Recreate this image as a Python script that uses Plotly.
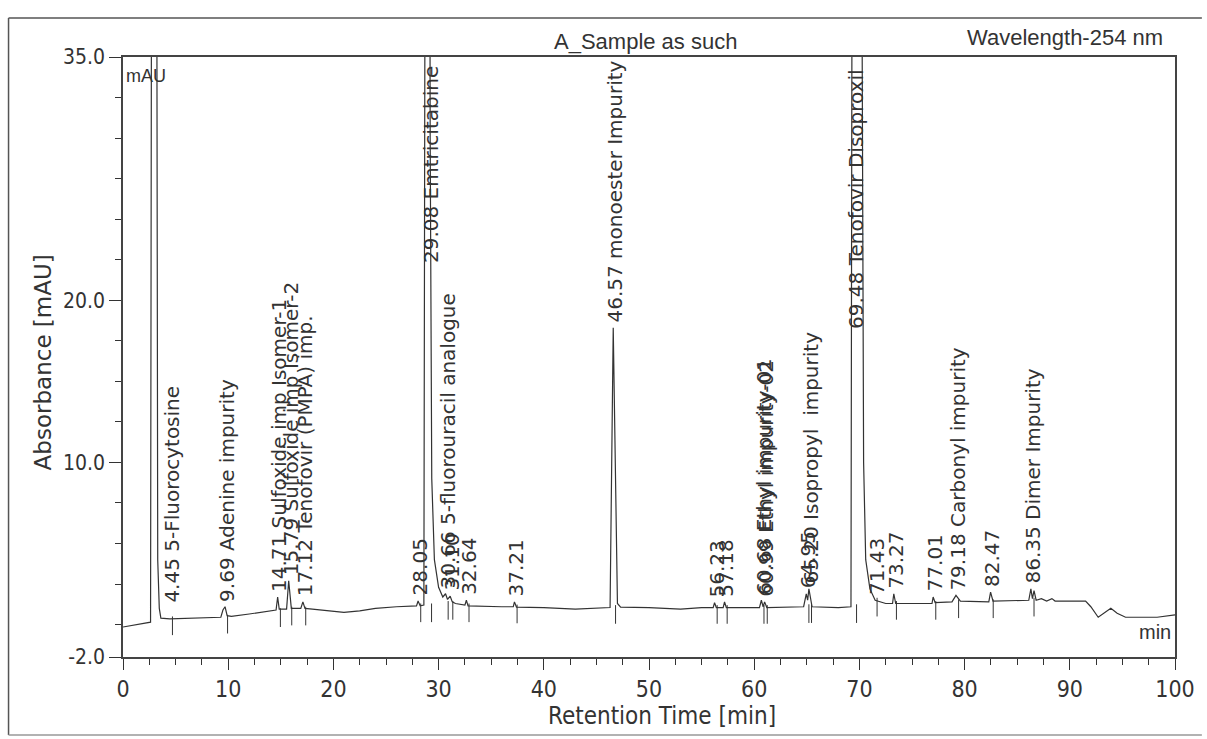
import numpy as np
import plotly.graph_objects as go

# ---------------- data ----------------
time_min = [0, 1, 2, 2.62, 2.95, 3.2, 3.3, 3.45, 3.6, 4.45, 6, 8, 9.3, 9.5, 9.7, 9.9, 10.3, 12, 14,
            14.55, 14.7, 14.85, 15.55, 15.75, 16.0, 16.9, 17.1, 17.3, 18, 19.5, 21, 22.5, 24, 26,
            27.9, 28.05, 28.25, 28.6, 28.95, 29.2, 29.35, 29.6, 30.0, 30.4, 30.66, 30.85, 31.1,
            31.3, 31.6, 32.5, 32.64, 32.8, 34, 36, 37.1, 37.21, 37.4, 40, 43, 46.3, 46.6, 47.0,
            47.3, 50, 53, 55, 56.1, 56.23, 56.4, 57.05, 57.18, 57.35, 60.5, 60.68, 60.85, 60.99,
            61.2, 64.7, 64.95, 65.08, 65.2, 65.5, 68, 69.2, 69.5, 70.25, 70.4, 70.6, 71.0, 71.5,
            72.5, 73.15, 73.27, 73.45, 76.9, 77.01, 77.2, 78.8, 79.18, 79.6, 82.3, 82.47, 82.7,
            86.1, 86.3, 86.45, 86.6, 86.8, 87.3, 87.8, 88.3, 88.6, 91.5, 92.0, 92.7, 93.2, 93.9,
            94.5, 95.3, 98.3, 100]
absorbance_mAU = [-0.15, -0.05, 0.05, 0.15, 150, 30, 4, 1.0, 0.4, 0.35, 0.38, 0.42, 0.45, 0.9, 1.1,
                  0.55, 0.5, 0.65, 0.85, 0.9, 1.7, 0.95, 0.95, 2.7, 1.0, 1.0, 1.4, 1.0, 0.95, 0.85,
                  0.75, 0.85, 1.0, 1.1, 1.15, 1.45, 1.15, 1.2, 130, 30, 9, 4, 2.3, 1.7, 1.9, 1.55,
                  1.75, 1.4, 1.3, 1.2, 1.5, 1.15, 1.12, 1.1, 1.1, 1.4, 1.08, 1.05, 0.95, 1.05, 18.3,
                  1.3, 1.08, 1.05, 0.95, 1.05, 1.05, 1.35, 1.05, 1.05, 1.4, 1.05, 1.05, 1.5, 1.1,
                  1.4, 1.05, 1.1, 1.9, 1.5, 2.2, 1.1, 1.05, 1.1, 120, 38, 10, 4, 2.2, 1.5, 1.3, 1.3,
                  1.9, 1.3, 1.3, 1.7, 1.35, 1.4, 1.8, 1.45, 1.4, 2.0, 1.45, 1.5, 2.2, 1.6, 2.1, 1.5,
                  1.6, 1.45, 1.6, 1.45, 1.45, 1.1, 0.45, 0.7, 1.0, 0.7, 0.45, 0.45, 0.6]

peak_rt = [4.45, 9.69, 14.71, 15.79, 17.12, 28.05, 29.08, 30.66, 31.10, 32.64, 37.21, 46.57,
           56.23, 57.18, 60.68, 60.99, 64.95, 65.20, 69.48, 71.43, 73.27, 77.01, 79.18, 82.47, 86.35]
peak_names = ["5-Fluorocytosine", "Adenine impurity", "Sulfoxide imp Isomer-1",
              "Sulfoxide imp Isomer-2", "Tenofovir (PMPA) imp.", "", "Emtricitabine",
              "5-fluorouracil analogue", "", "", "", "monoester Impurity", "", "",
              "Ethyl impurity-01", "Ethyl impurity-02", "", "Isopropyl  impurity",
              "Tenofovir Disoproxil", "", "", "", "Carbonyl impurity", "", "Dimer Impurity"]

x_tick_vals = [0, 10, 20, 30, 40, 50, 60, 70, 80, 90, 100]
y_tick_vals = [-2, 10, 20, 35]
y_tick_text = ["-2.0", "10.0", "20.0", "35.0"]

# ---------------- layout geometry ----------------
W, H = 1207, 739
ML, MR, MT, MB = 123, 27, 57, 82
PW, PH = W - ML - MR, H - MT - MB


def px(xp):
    return (xp - ML) / PW


def py(yp):
    return (H - MB - yp) / PH


INK = "#333333"
HFONT = "DejaVu Sans Condensed, Liberation Sans Narrow, Arial Narrow, Liberation Sans, Arial, sans-serif"
SFONT = "Liberation Sans, Arial, sans-serif"
VFONT = "DejaVu Sans, Liberation Sans, Arial, sans-serif"

t = np.array(time_min)
a = np.array(absorbance_mAU)

fig = go.Figure()
fig.add_trace(go.Scatter(x=time_min, y=absorbance_mAU, mode="lines",
                         line=dict(color=INK, width=1.2), hoverinfo="skip"))

# integration marks below the baseline
tx, ty = [], []
for rt in peak_rt:
    win = a[(t >= rt - 1.0) & (t <= rt + 1.0)]
    v = win.min()
    tx += [rt + 0.25, rt + 0.25, None]
    ty += [v + 0.15, v - 1.0, None]
fig.add_trace(go.Scatter(x=tx, y=ty, mode="lines", line=dict(color=INK, width=1),
                         hoverinfo="skip"))

# peak labels
label_cap = {29.08: 22.2, 69.48: 18.1}
annotations = []
for rt, name in zip(peak_rt, peak_names):
    win = a[(t >= rt - 0.2) & (t <= rt + 0.2)]
    base = max(win.max() + 0.2, 1.25)
    if rt in label_cap:
        base = label_cap[rt]
    txt = f"{rt:.2f} {name}".rstrip()
    annotations.append(dict(x=rt, y=base, xref="x", yref="y", text=txt, textangle=-90,
                            xanchor="center", yanchor="bottom", xshift=2, showarrow=False,
                            font=dict(family=VFONT, size=20, color=INK)))

annotations += [
    dict(x=px(648), y=py(41), xref="paper", yref="paper", text="A_Sample as such",
         showarrow=False, xanchor="center", yanchor="middle",
         font=dict(family=SFONT, size=22, color=INK)),
    dict(x=px(1170), y=py(38), xref="paper", yref="paper", text="Wavelength-254 nm",
         showarrow=False, xanchor="right", yanchor="middle",
         font=dict(family=SFONT, size=22, color=INK)),
    dict(x=px(43), y=py(362), xref="paper", yref="paper", text="Absorbance [mAU]",
         textangle=-90, showarrow=False, xanchor="center", yanchor="middle",
         font=dict(family=VFONT, size=23, color=INK)),
    dict(x=px(665), y=py(716), xref="paper", yref="paper", text="Retention Time [min]",
         showarrow=False, xanchor="center", yanchor="middle",
         font=dict(family=HFONT, size=24, color=INK)),
    dict(x=px(124), y=py(64), xref="paper", yref="paper", text="mAU",
         showarrow=False, xanchor="left", yanchor="top",
         font=dict(family=SFONT, size=18, color=INK)),
    dict(x=px(1178), y=py(632), xref="paper", yref="paper", text="min",
         showarrow=False, xanchor="right", yanchor="middle",
         font=dict(family=SFONT, size=20, color=INK)),
]

shapes = [
    dict(type="line", xref="paper", yref="paper", x0=px(8), x1=px(8), y0=py(18), y1=py(735),
         line=dict(color="#555555", width=1.5)),
    dict(type="line", xref="paper", yref="paper", x0=px(8), x1=px(1207), y0=py(18), y1=py(18),
         line=dict(color="#555555", width=1.5)),
    dict(type="line", xref="paper", yref="paper", x0=px(8), x1=px(1207), y0=py(735), y1=py(735),
         line=dict(color="#999999", width=1.5)),
]

fig.update_layout(
    width=W, height=H,
    margin=dict(l=ML, r=MR, t=MT, b=MB),
    paper_bgcolor="white", plot_bgcolor="white",
    showlegend=False,
    annotations=annotations,
    shapes=shapes,
    xaxis=dict(range=[0, 100], tickmode="array", tickvals=x_tick_vals,
               ticks="outside", ticklen=11, tickwidth=1.2, tickcolor=INK,
               minor=dict(dtick=2.5, tick0=0, ticks="outside", ticklen=6, tickcolor=INK),
               showline=True, linecolor="#444444", linewidth=1.5, mirror=True,
               showgrid=False, zeroline=False,
               tickfont=dict(family=HFONT, size=23, color=INK)),
    yaxis=dict(range=[-2, 35], tickmode="array", tickvals=y_tick_vals, ticktext=y_tick_text,
               ticks="outside", ticklen=12, tickwidth=1.2, tickcolor=INK,
               minor=dict(dtick=2.5, tick0=0, ticks="outside", ticklen=6, tickcolor=INK),
               showline=True, linecolor="#444444", linewidth=1.5, mirror=True,
               showgrid=False, zeroline=False,
               tickfont=dict(family=HFONT, size=21, color=INK)),
)

fig.write_html("out.html")
